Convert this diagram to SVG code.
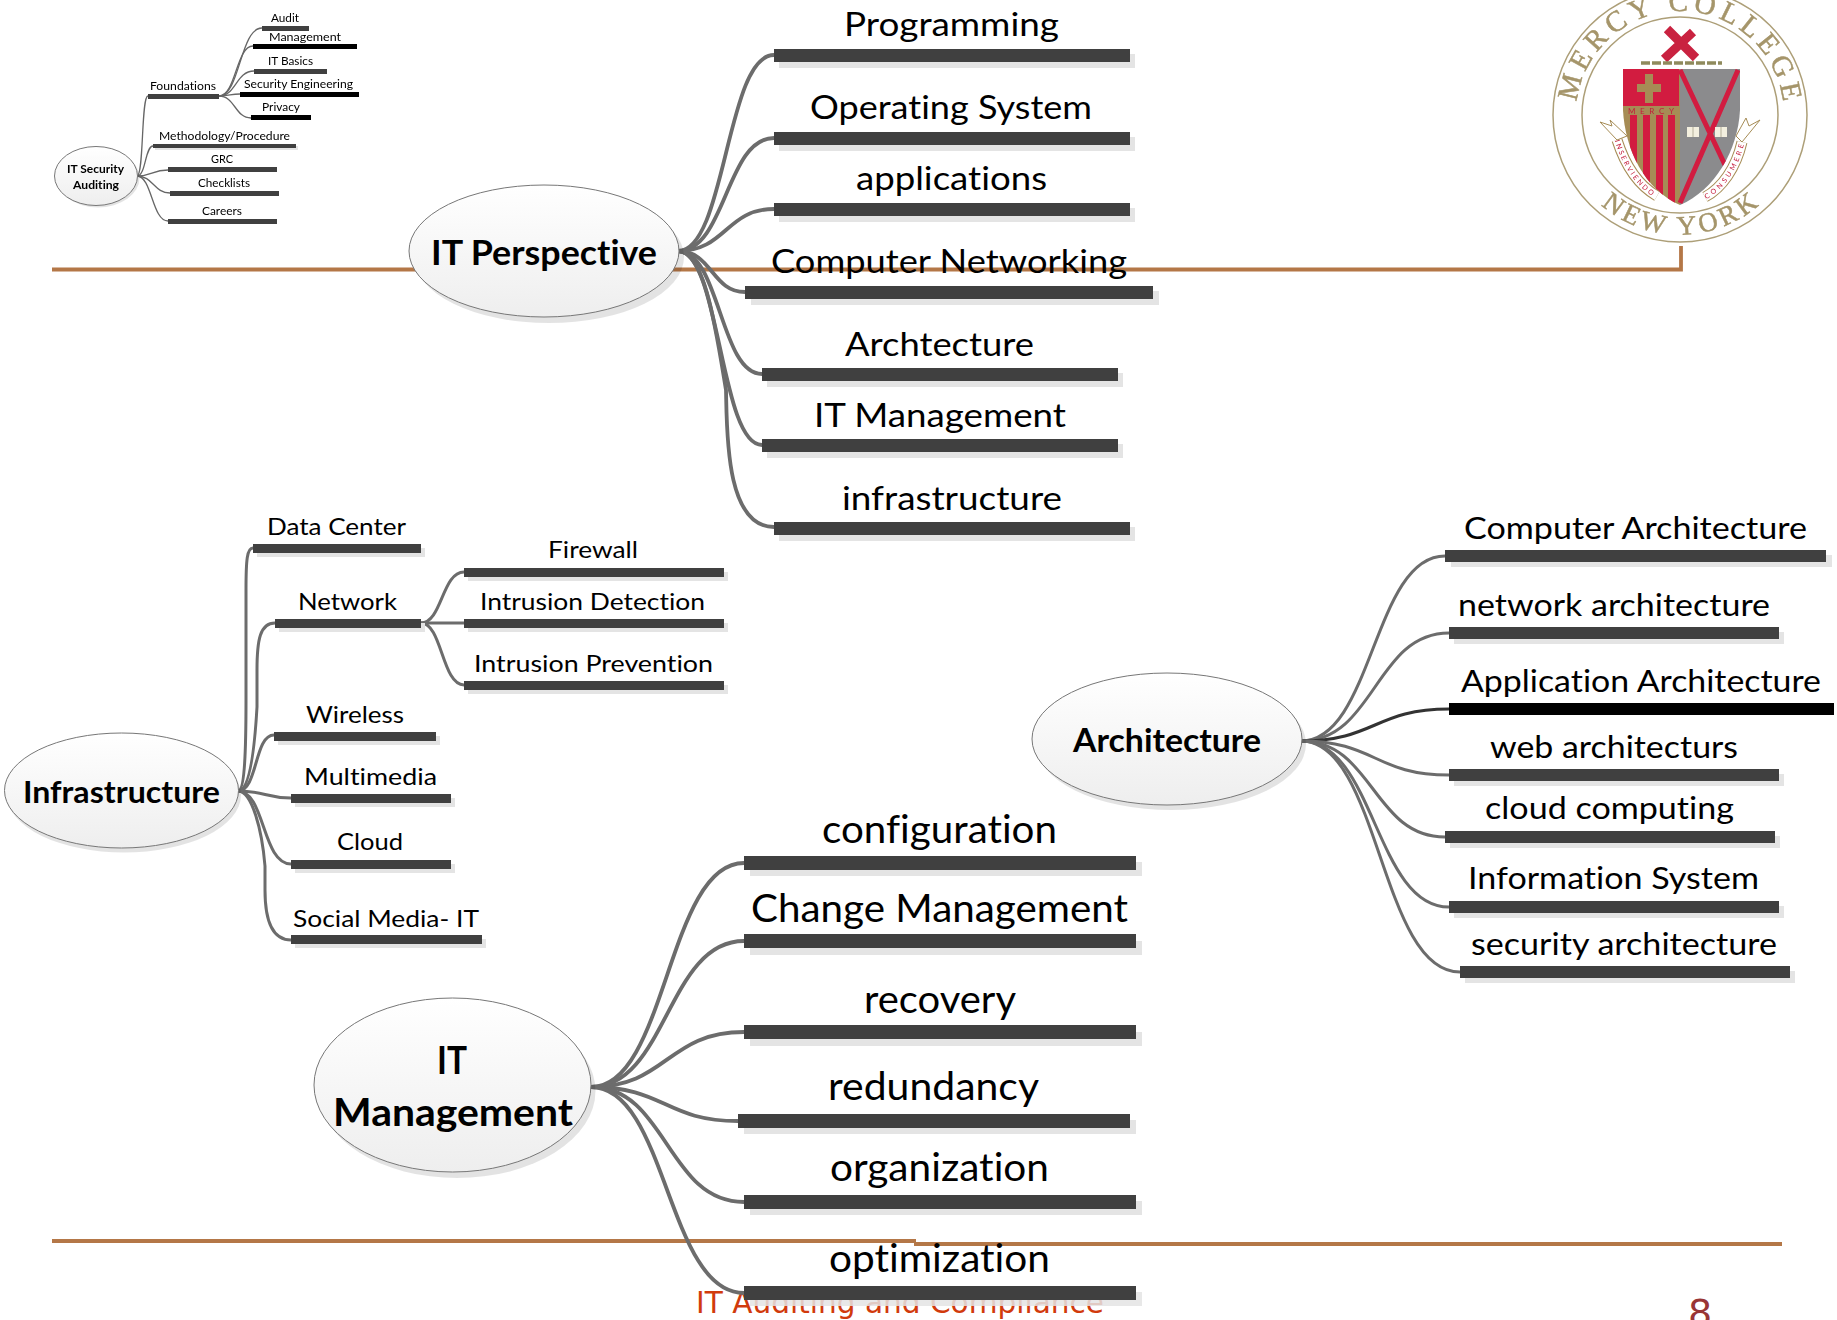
<svg xmlns="http://www.w3.org/2000/svg" width="1837" height="1320" viewBox="0 0 1837 1320">
<style>
text{font-family:"Lato","Liberation Sans",sans-serif;fill:#000;font-variant-ligatures:none}
.b{fill:#404040}.k{fill:#000}.s{fill:#e4e4e4}
.c{fill:none;stroke:#6c6c6c;stroke-width:3.8;stroke-linecap:round}
.c2{fill:none;stroke:#6c6c6c;stroke-width:3;stroke-linecap:round}
.c3{fill:none;stroke:#666;stroke-width:1.3;stroke-linecap:round}
.el{fill:url(#g);stroke:#777;stroke-width:1}
.es{fill:#000;opacity:.11}
.rule{fill:none;stroke:#b47747;stroke-width:3.8}
.t{font-size:12px}.i{font-size:24px}.a{font-size:30px}.p{font-size:32px}.m{font-size:38px}
.h{font-weight:700}
.i,.a,.p,.m,.h{transform:translateY(1px)}
.t{transform:none}
.lg{font-family:"Liberation Serif",serif;fill:#a5956a;stroke:#a5956a;stroke-width:.5;font-size:29px}
</style>
<defs>
<linearGradient id="g" x1="0" y1="0" x2="0" y2="1"><stop offset="0" stop-color="#fff"/><stop offset="1" stop-color="#eeeeee"/></linearGradient>
<filter id="soft" x="-5%" y="-5%" width="110%" height="110%"><feGaussianBlur stdDeviation="0.45"/></filter>
<path id="arcTop" d="M1576,115 A104,104 0 0 1 1784,115"/>
<path id="arcBot" d="M1590,194 A120,120 0 0 0 1770,194"/>
<path id="ribL" d="M1617,140 C1625,165 1638,185 1657,196"/>
<path id="ribR" d="M1705,197 C1722,188 1736,168 1742,142"/>
<clipPath id="shieldClip"><path d="M1623,69 H1740 V110 C1738,150 1715,190 1680,205 C1645,190 1625,150 1623,110 Z"/></clipPath>
</defs>

<g id="footer">
<text x="696" y="1313" font-size="31" textLength="408" lengthAdjust="spacingAndGlyphs" style="font-family:'DejaVu Sans',sans-serif;fill:#d13a0c">IT Auditing and Compliance</text>
<text x="1700" y="1326" font-size="38" text-anchor="middle" style="font-family:'DejaVu Sans',sans-serif;fill:#993535">8</text>
</g>

<g id="rules">
<path class="rule" d="M52,269.500 H1681 V246"/>
<path class="rule" d="M52,1241 H916"/>
<path class="rule" d="M914,1244 H1782"/>
</g>

<g id="logo" filter="url(#soft)">
<circle cx="1680" cy="115" r="127" fill="#fff" stroke="#ad9f78" stroke-width="1.5"/>
<circle cx="1680" cy="115" r="98" fill="#fff" stroke="#ad9f78" stroke-width="1.5"/>
<text class="lg"><textPath href="#arcTop" startOffset="50%" text-anchor="middle" textLength="300">MERCY COLLEGE</textPath></text>
<text class="lg" style="font-size:27px"><textPath href="#arcBot" startOffset="50%" text-anchor="middle" textLength="172">NEW YORK</textPath></text>
<path d="M1667,29 L1696,58 M1693,32 L1664,59" stroke="#c9213f" stroke-width="9" fill="none"/>
<path d="M1641,63 H1722" stroke="#8f8a5c" stroke-width="3.500" stroke-dasharray="9 2" fill="none"/>
<g clip-path="url(#shieldClip)">
<rect x="1623" y="69" width="57" height="140" fill="#a68c55"/>
<rect x="1623" y="69" width="56" height="37" fill="#d21c40"/>
<rect x="1630" y="115" width="7" height="90" fill="#d21c40"/>
<rect x="1643" y="115" width="7" height="90" fill="#d21c40"/>
<rect x="1656" y="115" width="7" height="90" fill="#d21c40"/>
<rect x="1668" y="115" width="7" height="90" fill="#d21c40"/>
<rect x="1680" y="69" width="62" height="140" fill="#8b8b8d"/>
<path d="M1680,70 L1725,165 M1738,70 L1680,203" stroke="#d21c40" stroke-width="5" fill="none"/>
</g>
<path d="M1649,74 V103 M1637,88 H1661" stroke="#a68c55" stroke-width="8" fill="none"/>
<text x="1651" y="114" font-size="8" text-anchor="middle" style="fill:#c41c3c" textLength="46" lengthAdjust="spacing">MERCY</text>
<rect x="1687" y="127" width="12" height="10" fill="#f3efdf"/>
<rect x="1715" y="127" width="12" height="10" fill="#f3efdf"/>
<path d="M1693,127 V137 M1721,127 V137" stroke="#b5b09a" stroke-width="1"/>
<path d="M1617,140 C1625,165 1638,185 1657,196" fill="none" stroke="#a68c55" stroke-width="11"/>
<path d="M1617,140 C1625,165 1638,185 1657,196" fill="none" stroke="#fff" stroke-width="9"/>
<path d="M1705,197 C1722,188 1736,168 1742,142" fill="none" stroke="#a68c55" stroke-width="11"/>
<path d="M1705,197 C1722,188 1736,168 1742,142" fill="none" stroke="#fff" stroke-width="9"/>
<text font-size="7" dy="2.500" style="fill:#c41c3c"><textPath href="#ribL" textLength="66">INSERVIENDO</textPath></text>
<text font-size="7" dy="2.500" style="fill:#c41c3c"><textPath href="#ribR" textLength="66">CONSUMERE</textPath></text>
<path d="M1617,140 L1600,122 L1612,126 L1610,120 L1627,136 Z M1742,142 L1760,120 L1749,126 L1746,118 L1736,136 Z" fill="#fff" stroke="#a68c55" stroke-width="1"/>
</g>

<g id="connectors">
<g id="conn-mini" filter="url(#soft)">
<path class="c3" d="M137,176 C144,176 141,96 148,96"/>
<path class="c3" d="M137,176 C146,176 145,146 153,146"/>
<path class="c3" d="M137,176 C152,176 152,170 168,170"/>
<path class="c3" d="M137,176 C153,176 154,193 170,193"/>
<path class="c3" d="M137,176 C152,176 152,221 168,221"/>
<path class="c3" d="M219,96 C240,96 240,28 262,28"/>
<path class="c3" d="M219,96 C236,96 236,46 253,46"/>
<path class="c3" d="M219,96 C236,96 236,71 254,71"/>
<path class="c3" d="M219,96 C230,96 230,94 240,94"/>
<path class="c3" d="M219,96 C235,96 235,118 251,118"/>
</g>
<g id="conn-perspective">
<path class="c" d="M678,251 C726,251 726,55 774,55"/>
<path class="c" d="M678,251 C726,251 726,138 774,138"/>
<path class="c" d="M678,251 C726,251 726,209 774,209"/>
<path class="c" d="M678,251 C712,251 712,292 745,292"/>
<path class="c" d="M678,251 C720,251 720,374 762,374"/>
<path class="c" d="M678,251 C720,251 720,445 762,445"/>
<path class="c" d="M678,251 C705,251 716,330 726,390 C727,430 725,527 774,527"/>
</g>
<g id="conn-infrastructure">
<path class="c2" d="M238,791 C244,791 246,760 246,700 L246,590 C246,560 247,548 253,548"/>
<path class="c2" d="M238,791 C248,791 254,760 257,707 L257,670 C257,640 260,623 275,623"/>
<path class="c2" d="M238,791 C258,791 254,735 274,735"/>
<path class="c2" d="M238,791 C265,791 265,798 291,798"/>
<path class="c2" d="M238,791 C265,791 262,864 291,864"/>
<path class="c2" d="M238,791 C252,791 262,830 265,866 L265,890 C265,925 275,940 291,940"/>
<path class="c2" d="M421,623 C442,623 442,572 464,572"/>
<path class="c2" d="M421,623 C442,623 442,623 464,623"/>
<path class="c2" d="M421,623 C442,623 442,685 464,685"/>
</g>
<g id="conn-architecture">
<path class="c2" d="M1301,741 C1373,741 1373,556 1445,556"/>
<path class="c2" d="M1301,741 C1375,741 1375,633 1449,633"/>
<path class="c2" d="M1301,741 C1375,741 1375,709 1449,709" style="stroke:#333"/>
<path class="c2" d="M1301,741 C1375,741 1375,775 1449,775"/>
<path class="c2" d="M1301,741 C1373,741 1373,837 1445,837"/>
<path class="c2" d="M1301,741 C1375,741 1375,907 1449,907"/>
<path class="c2" d="M1301,741 C1380,741 1380,972 1460,972"/>
</g>
<g id="conn-management">
<path class="c" d="M591,1087 C667,1087 667,863 744,863"/>
<path class="c" d="M591,1087 C667,1087 667,941 744,941"/>
<path class="c" d="M591,1087 C667,1087 667,1032 744,1032"/>
<path class="c" d="M591,1087 C665,1087 665,1121 738,1121"/>
<path class="c" d="M591,1087 C667,1087 667,1202 744,1202"/>
<path class="c" d="M591,1087 C667,1087 667,1293 744,1293"/>
</g>
</g>

<g id="n-it-security-auditing" filter="url(#soft)">
<ellipse class="es" cx="98" cy="178" rx="41.500" ry="29.500"/>
<ellipse class="el" cx="96" cy="176" rx="41.500" ry="29.500"/>
<text class="t h" x="67" y="173" textLength="57" lengthAdjust="spacingAndGlyphs">IT Security</text>
<text class="t h" x="73" y="189" textLength="46" lengthAdjust="spacingAndGlyphs">Auditing</text>
</g>
<g id="mini-nodes" filter="url(#soft)">
<g id="n-audit"><rect class="b" x="262" y="26" width="47" height="5"/><text class="t" x="271" y="22" textLength="28" lengthAdjust="spacingAndGlyphs">Audit</text></g>
<g id="n-audit-management"><rect class="k" x="253" y="44" width="104" height="5"/><text class="t" x="269" y="41" textLength="72" lengthAdjust="spacingAndGlyphs">Management</text></g>
<g id="n-it-basics"><rect class="b" x="254" y="69" width="73" height="5"/><text class="t" x="268" y="65" textLength="45" lengthAdjust="spacingAndGlyphs">IT Basics</text></g>
<g id="n-security-engineering"><rect class="k" x="240" y="92" width="119" height="5"/><text class="t" x="244" y="88" textLength="109" lengthAdjust="spacingAndGlyphs">Security Engineering</text></g>
<g id="n-privacy"><rect class="k" x="251" y="115" width="60" height="5"/><text class="t" x="262" y="111" textLength="38" lengthAdjust="spacingAndGlyphs">Privacy</text></g>
<g id="n-foundations"><rect class="b" x="148" y="94" width="71" height="5"/><text class="t" x="150" y="90" textLength="66" lengthAdjust="spacingAndGlyphs">Foundations</text></g>
<g id="n-methodology"><rect class="s" x="155" y="146" width="143" height="4"/><rect class="b" x="153" y="144" width="143" height="4"/><text class="t" x="159" y="140" textLength="131" lengthAdjust="spacingAndGlyphs">Methodology/Procedure</text></g>
<g id="n-grc"><rect class="b" x="168" y="167" width="109" height="5"/><text class="t" x="211" y="163" textLength="22" lengthAdjust="spacingAndGlyphs">GRC</text></g>
<g id="n-checklists"><rect class="b" x="170" y="191" width="109" height="5"/><text class="t" x="198" y="187" textLength="52" lengthAdjust="spacingAndGlyphs">Checklists</text></g>
<g id="n-careers"><rect class="b" x="168" y="219" width="109" height="5"/><text class="t" x="202" y="215" textLength="40" lengthAdjust="spacingAndGlyphs">Careers</text></g>
</g>

<g id="n-it-perspective">
<ellipse class="es" cx="549" cy="257" rx="135" ry="66"/>
<ellipse class="el" cx="544" cy="251" rx="135" ry="66"/>
<text class="h" font-size="34" x="431" y="264" textLength="226" lengthAdjust="spacingAndGlyphs">IT Perspective</text>
</g>
<g id="n-programming"><rect class="s" x="779" y="54" width="356" height="14"/><rect class="b" x="774" y="49" width="356" height="13"/><text class="p" x="844" y="35" textLength="215" lengthAdjust="spacingAndGlyphs">Programming</text></g>
<g id="n-operating-system"><rect class="s" x="779" y="137" width="356" height="14"/><rect class="b" x="774" y="132" width="356" height="13"/><text class="p" x="810" y="118" textLength="282" lengthAdjust="spacingAndGlyphs">Operating System</text></g>
<g id="n-applications"><rect class="s" x="779" y="208" width="356" height="14"/><rect class="b" x="774" y="203" width="356" height="13"/><text class="p" x="856" y="189" textLength="191" lengthAdjust="spacingAndGlyphs">applications</text></g>
<g id="n-computer-networking"><rect class="s" x="751" y="291" width="408" height="14"/><rect class="b" x="745" y="286" width="408" height="13"/><text class="p" x="771" y="272" textLength="356" lengthAdjust="spacingAndGlyphs">Computer Networking</text></g>
<g id="n-archtecture"><rect class="s" x="767" y="373" width="356" height="14"/><rect class="b" x="762" y="368" width="356" height="13"/><text class="p" x="845" y="355" textLength="189" lengthAdjust="spacingAndGlyphs">Archtecture</text></g>
<g id="n-it-management-item"><rect class="s" x="767" y="444" width="356" height="14"/><rect class="b" x="762" y="439" width="356" height="13"/><text class="p" x="814" y="426" textLength="252" lengthAdjust="spacingAndGlyphs">IT Management</text></g>
<g id="n-infrastructure-item"><rect class="s" x="779" y="527" width="356" height="14"/><rect class="b" x="774" y="522" width="356" height="13"/><text class="p" x="842" y="509" textLength="220" lengthAdjust="spacingAndGlyphs">infrastructure</text></g>

<g id="n-infrastructure">
<ellipse class="es" cx="124" cy="795" rx="117" ry="57.500"/>
<ellipse class="el" cx="121.500" cy="790.500" rx="117" ry="57.500"/>
<text class="h" font-size="30" x="23" y="802" textLength="197" lengthAdjust="spacingAndGlyphs">Infrastructure</text>
</g>
<g id="n-data-center"><rect class="s" x="257" y="548" width="168" height="9"/><rect class="b" x="253" y="544" width="168" height="9"/><text class="i" x="267" y="534" textLength="139" lengthAdjust="spacingAndGlyphs">Data Center</text></g>
<g id="n-network"><rect class="s" x="279" y="623" width="146" height="9"/><rect class="b" x="275" y="619" width="146" height="9"/><text class="i" x="298" y="609" textLength="99" lengthAdjust="spacingAndGlyphs">Network</text></g>
<g id="n-firewall"><rect class="s" x="468" y="572" width="260" height="9"/><rect class="b" x="464" y="568" width="260" height="9"/><text class="i" x="548" y="557" textLength="90" lengthAdjust="spacingAndGlyphs">Firewall</text></g>
<g id="n-intrusion-detection"><rect class="s" x="468" y="623" width="260" height="9"/><rect class="b" x="464" y="619" width="260" height="9"/><text class="i" x="480" y="609" textLength="225" lengthAdjust="spacingAndGlyphs">Intrusion Detection</text></g>
<g id="n-intrusion-prevention"><rect class="s" x="468" y="685" width="260" height="9"/><rect class="b" x="464" y="681" width="260" height="9"/><text class="i" x="474" y="671" textLength="239" lengthAdjust="spacingAndGlyphs">Intrusion Prevention</text></g>
<g id="n-wireless"><rect class="s" x="278" y="736" width="162" height="9"/><rect class="b" x="274" y="732" width="162" height="9"/><text class="i" x="306" y="722" textLength="98" lengthAdjust="spacingAndGlyphs">Wireless</text></g>
<g id="n-multimedia"><rect class="s" x="295" y="798" width="160" height="9"/><rect class="b" x="291" y="794" width="160" height="9"/><text class="i" x="304" y="784" textLength="133" lengthAdjust="spacingAndGlyphs">Multimedia</text></g>
<g id="n-cloud"><rect class="s" x="295" y="864" width="160" height="9"/><rect class="b" x="291" y="860" width="160" height="9"/><text class="i" x="337" y="849" textLength="66" lengthAdjust="spacingAndGlyphs">Cloud</text></g>
<g id="n-social-media"><rect class="s" x="295" y="939" width="191" height="9"/><rect class="b" x="291" y="935" width="191" height="9"/><text class="i" x="293" y="926" textLength="186" lengthAdjust="spacingAndGlyphs">Social Media- IT</text></g>

<g id="n-architecture">
<ellipse class="es" cx="1171" cy="744" rx="135" ry="66"/>
<ellipse class="el" cx="1167" cy="739" rx="135" ry="66"/>
<text class="h" font-size="32" x="1073" y="751" textLength="188" lengthAdjust="spacingAndGlyphs">Architecture</text>
</g>
<g id="n-computer-architecture"><rect class="s" x="1451" y="555" width="381" height="12"/><rect class="b" x="1445" y="550" width="381" height="12"/><text class="a" x="1464" y="538" textLength="343" lengthAdjust="spacingAndGlyphs">Computer Architecture</text></g>
<g id="n-network-architecture"><rect class="s" x="1454" y="632" width="330" height="12"/><rect class="b" x="1449" y="627" width="330" height="12"/><text class="a" x="1458" y="615" textLength="312" lengthAdjust="spacingAndGlyphs">network architecture</text></g>
<g id="n-application-architecture"><rect class="k" x="1449" y="703" width="385" height="12"/><text class="a" x="1461" y="691" textLength="360" lengthAdjust="spacingAndGlyphs">Application Architecture</text></g>
<g id="n-web-architecturs"><rect class="s" x="1454" y="774" width="330" height="12"/><rect class="b" x="1449" y="769" width="330" height="12"/><text class="a" x="1490" y="757" textLength="248" lengthAdjust="spacingAndGlyphs">web architecturs</text></g>
<g id="n-cloud-computing"><rect class="s" x="1450" y="836" width="330" height="12"/><rect class="b" x="1445" y="831" width="330" height="12"/><text class="a" x="1485" y="818" textLength="249" lengthAdjust="spacingAndGlyphs">cloud computing</text></g>
<g id="n-information-system"><rect class="s" x="1454" y="906" width="330" height="12"/><rect class="b" x="1449" y="901" width="330" height="12"/><text class="a" x="1468" y="888" textLength="291" lengthAdjust="spacingAndGlyphs">Information System</text></g>
<g id="n-security-architecture"><rect class="s" x="1465" y="971" width="330" height="12"/><rect class="b" x="1460" y="966" width="330" height="12"/><text class="a" x="1471" y="954" textLength="306" lengthAdjust="spacingAndGlyphs">security architecture</text></g>

<g id="n-it-management">
<ellipse class="es" cx="457" cy="1091" rx="138.500" ry="87"/>
<ellipse class="el" cx="452.500" cy="1085" rx="138.500" ry="87"/>
<text class="h" font-size="38" x="437" y="1073" textLength="30" lengthAdjust="spacingAndGlyphs">IT</text>
<text class="h" font-size="38" x="333" y="1125" textLength="240" lengthAdjust="spacingAndGlyphs">Management</text>
</g>
<g id="n-configuration"><rect class="s" x="750" y="862" width="392" height="14"/><rect class="b" x="744" y="856" width="392" height="14"/><text class="m" x="822" y="842" textLength="235" lengthAdjust="spacingAndGlyphs">configuration</text></g>
<g id="n-change-management"><rect class="s" x="750" y="941" width="392" height="14"/><rect class="b" x="744" y="934" width="392" height="14"/><text class="m" x="751" y="921" textLength="377" lengthAdjust="spacingAndGlyphs">Change Management</text></g>
<g id="n-recovery"><rect class="s" x="750" y="1032" width="392" height="14"/><rect class="b" x="744" y="1025" width="392" height="14"/><text class="m" x="864" y="1012" textLength="152" lengthAdjust="spacingAndGlyphs">recovery</text></g>
<g id="n-redundancy"><rect class="s" x="744" y="1120" width="392" height="14"/><rect class="b" x="738" y="1114" width="392" height="14"/><text class="m" x="828" y="1099" textLength="211" lengthAdjust="spacingAndGlyphs">redundancy</text></g>
<g id="n-organization"><rect class="s" x="750" y="1201" width="392" height="14"/><rect class="b" x="744" y="1195" width="392" height="14"/><text class="m" x="830" y="1180" textLength="219" lengthAdjust="spacingAndGlyphs">organization</text></g>
<g id="n-optimization"><rect class="s" x="750" y="1292" width="392" height="14" opacity=".85"/><rect class="b" x="744" y="1286" width="392" height="14"/><text class="m" x="829" y="1271" textLength="221" lengthAdjust="spacingAndGlyphs">optimization</text></g>
</svg>
